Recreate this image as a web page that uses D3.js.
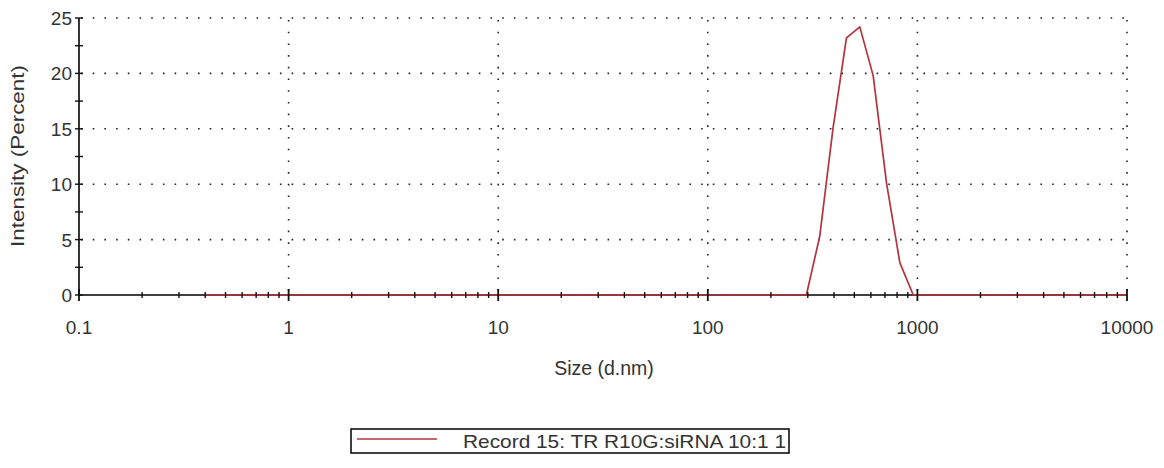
<!DOCTYPE html>
<html><head><meta charset="utf-8">
<script src="https://cdn.jsdelivr.net/npm/d3@7"></script>
<style>
html,body{margin:0;padding:0;background:#fff;}
svg{display:block;}
text{font-family:"Liberation Sans",Arial,sans-serif;fill:#333;}
</style></head>
<body>
<svg id="chart" width="1164" height="468"></svg>
<script>
// Size classes (d.nm)
const sizes = [0.4, 0.4632, 0.5365, 0.6213, 0.7195, 0.8332, 0.9649, 1.117, 1.294, 1.499,
  1.736, 2.01, 2.328, 2.696, 3.122, 3.615, 4.187, 4.849, 5.615, 6.503,
  7.531, 8.721, 10.1, 11.7, 13.54, 15.69, 18.17, 21.04, 24.36, 28.21,
  32.67, 37.84, 43.82, 50.75, 58.77, 68.06, 78.82, 91.28, 105.7, 122.4,
  141.8, 164.2, 190.1, 220.2, 255.0, 295.3, 342.0, 396.1, 458.7, 531.2,
  615.1, 712.4, 825.0, 955.4, 1106, 1281, 1484, 1718, 1990, 2305,
  2669, 3091, 3580, 4145, 4801, 5560, 6439, 7456, 8635, 10000];
// Intensity (Percent)
const intensity = [0,0,0,0,0,0,0,0,0,0,
  0,0,0,0,0,0,0,0,0,0,
  0,0,0,0,0,0,0,0,0,0,
  0,0,0,0,0,0,0,0,0,0,
  0,0,0,0,0,0,5.3,15.1,23.2,24.2,
  19.8,10.1,2.9,0,0,0,0,0,0,0,
  0,0,0,0,0,0,0,0,0,0];
const xTickValues = [0.1, 1, 10, 100, 1000, 10000];
const xTickLabels = ["0.1", "1", "10", "100", "1000", "10000"];
const yTickValues = [0, 5, 10, 15, 20, 25];
const seriesName = "Record 15: TR R10G:siRNA 10:1 1";
const xTitle = "Size (d.nm)";
const yTitle = "Intensity (Percent)";

const svg = d3.select("#chart");
const L = 79, R = 1127, T = 18, B = 295;
const x = d3.scaleLog().domain([0.1, 10000]).range([L, R]);
const y = d3.scaleLinear().domain([0, 25]).range([B, T]);

// minor tick values
const xMinor = [];
for (let d = 0.1; d < 10000; d *= 10) for (let k = 2; k <= 9; k++) xMinor.push(+(d * k).toPrecision(3));
const yMinor = d3.range(0, 25.01, 2.5);

// grid
const grid = svg.append("g");
grid.selectAll("line.h").data(yTickValues.filter(v => v > 0)).join("line")
  .attr("x1", L + 2).attr("x2", R).attr("y1", d => y(d)).attr("y2", d => y(d))
  .attr("stroke", "#222").attr("stroke-width", 1.6).attr("stroke-dasharray", "1.6,10.1");
grid.selectAll("line.v").data(xTickValues.filter(v => v > 0.1)).join("line")
  .attr("x1", d => x(d)).attr("x2", d => x(d)).attr("y1", T + 2).attr("y2", B)
  .attr("stroke", "#222").attr("stroke-width", 1.6).attr("stroke-dasharray", "1.6,10.1");

// axis lines
svg.append("line").attr("x1", L).attr("x2", R).attr("y1", B).attr("y2", B).attr("stroke", "#000").attr("stroke-width", 1.6);
svg.append("line").attr("x1", L).attr("x2", L).attr("y1", T).attr("y2", B).attr("stroke", "#000").attr("stroke-width", 1.6);

// data line
const pts = sizes.map((s, i) => [s, intensity[i]]);
svg.append("path").datum(pts)
  .attr("fill", "none").attr("stroke", "#b3343e").attr("stroke-width", 1.7)
  .attr("stroke-linejoin", "round")
  .attr("d", d3.line().x(d => x(d[0])).y(d => y(d[1])));

// x ticks
const xt = svg.append("g").attr("stroke", "#111").attr("stroke-width", 1.4);
xt.selectAll("line.mn").data(xMinor).join("line")
  .attr("x1", d => x(d)).attr("x2", d => x(d)).attr("y1", B - 3).attr("y2", B + 3);
xt.selectAll("line.mj").data(xTickValues).join("line")
  .attr("x1", d => x(d)).attr("x2", d => x(d)).attr("y1", B - 6).attr("y2", B + 6).attr("stroke-width", 1.8);
// y ticks
svg.append("g").attr("stroke", "#111").attr("stroke-width", 1.4)
  .selectAll("line").data(yMinor).join("line")
  .attr("x1", L - 4).attr("x2", L + 4).attr("y1", d => y(d)).attr("y2", d => y(d));

// labels
svg.append("g").selectAll("text").data(xTickValues).join("text")
  .attr("x", d => x(d)).attr("y", 334).attr("text-anchor", "middle")
  .attr("font-size", 19).text((d, i) => xTickLabels[i]);
svg.append("g").selectAll("text").data(yTickValues).join("text")
  .attr("x", 72).attr("y", d => y(d) + 7).attr("text-anchor", "end")
  .attr("font-size", 19).text(d => d);

svg.append("text").attr("x", 604).attr("y", 375).attr("text-anchor", "middle")
  .attr("font-size", 19.5).text(xTitle);
svg.append("text").attr("transform", "translate(24,156) rotate(-90)")
  .attr("text-anchor", "middle").attr("font-size", 19).attr("textLength", 182)
  .attr("lengthAdjust", "spacingAndGlyphs").text(yTitle);

// legend
const lg = svg.append("g");
lg.append("rect").attr("x", 351).attr("y", 429).attr("width", 438).attr("height", 24)
  .attr("fill", "#fff").attr("stroke", "#000").attr("stroke-width", 1.5);
lg.append("line").attr("x1", 357).attr("x2", 437).attr("y1", 439).attr("y2", 439)
  .attr("stroke", "#b3343e").attr("stroke-width", 1.7);
lg.append("text").attr("x", 463).attr("y", 448).attr("font-size", 19)
  .attr("textLength", 323).attr("lengthAdjust", "spacingAndGlyphs").text(seriesName);
</script>
</body></html>
